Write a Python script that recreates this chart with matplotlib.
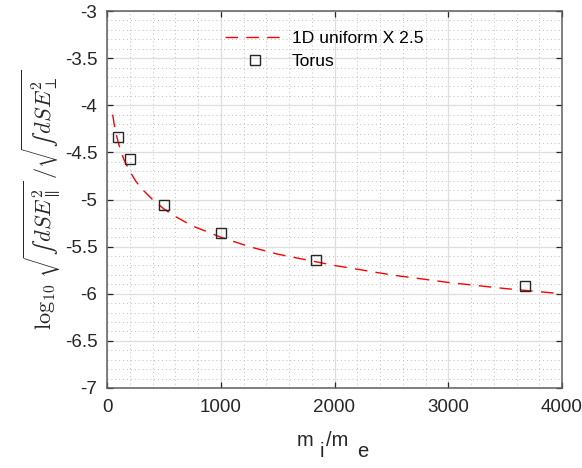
import matplotlib
matplotlib.use("Agg")
import matplotlib.pyplot as plt
from matplotlib.ticker import MultipleLocator, FuncFormatter

plt.rcParams['font.family'] = ['Liberation Sans', 'DejaVu Sans']
plt.rcParams['axes.unicode_minus'] = False

# 1D uniform model (scaled by 2.5)
line_x = [50, 60, 75, 100, 125, 150, 200, 250, 300, 400, 500, 600, 750,
          1000, 1250, 1500, 2000, 2500, 3000, 3500, 4000]
line_y = [-4.10, -4.18, -4.28, -4.40, -4.50, -4.58, -4.70, -4.80, -4.88,
          -5.00, -5.10, -5.18, -5.28, -5.40, -5.50, -5.58, -5.70, -5.80,
          -5.88, -5.945, -6.00]

# Torus data
torus_x = [100, 200, 500, 1000, 1836, 3672]
torus_y = [-4.34, -4.57, -5.055, -5.36, -5.645, -5.92]

line_label = "1D uniform X 2.5"
torus_label = "Torus"

W, H = 582, 468
fig = plt.figure(figsize=(W / 100, H / 100), dpi=100)
ax = fig.add_axes([107 / W, 1 - 388 / H, 455 / W, 377 / H])

ax.plot(line_x, line_y, color='#ff0000', lw=1.0, linestyle=(0, (9, 6)),
        label=line_label, zorder=3)
ax.plot(torus_x, torus_y, linestyle='none', marker='s', markersize=7,
        markerfacecolor='none', markeredgecolor='#262626', markeredgewidth=1.0,
        label=torus_label, zorder=4)

ax.set_xlim(0, 4000)
ax.set_ylim(-7, -3)
ax.xaxis.set_major_locator(MultipleLocator(1000))
ax.xaxis.set_minor_locator(MultipleLocator(200))
ax.yaxis.set_major_locator(MultipleLocator(0.5))
ax.yaxis.set_minor_locator(MultipleLocator(0.1))
ax.yaxis.set_major_formatter(FuncFormatter(lambda v, p: ('%g' % v)))
ax.xaxis.set_major_formatter(FuncFormatter(lambda v, p: ('%g' % v)))

ax.grid(True, which='major', color='#dedede', lw=0.9, linestyle='-', zorder=0)
ax.grid(True, which='minor', color='#bdbdbd', lw=0.7, linestyle=(0, (1, 3)), zorder=0)
ax.set_axisbelow(True)

for s in ax.spines.values():
    s.set_color('#5e5e5e')
    s.set_linewidth(1.1)

ax.tick_params(which='major', direction='in', length=4, width=0.9, color='#262626',
               top=True, right=True, labelsize=13.5, labelcolor='#262626')
ax.tick_params(axis='y', which='major', pad=7)
ax.tick_params(axis='x', which='major', pad=8)
ax.tick_params(which='minor', length=0, top=True, right=True)

# x label: m_i / m_e (MATLAB-style, subscripts nearly full size)
def px(x, y):
    return x / W, 1 - y / H

xl_kw = dict(fontsize=14.5, color='#262626', va='baseline', ha='left')
fig.text(*px(297, 446), 'm', **xl_kw)
fig.text(*px(320, 457), 'i', **xl_kw)
fig.text(*px(326, 446), '/m', **xl_kw)
fig.text(*px(357, 457), 'e', **xl_kw)

ax.set_ylabel(r'$\log_{10}\,\sqrt{∫\, dSE_{\parallel}^2}\,/\sqrt{∫\, dSE_{\perp}^2}$',
              fontsize=16, color='#262626', math_fontfamily='cm', labelpad=1.5)

leg = ax.legend(loc='upper left', bbox_to_anchor=(0.243, 0.965), frameon=False,
                fontsize=12.6, handlelength=3.5, handletextpad=0.35,
                labelspacing=0.42, borderaxespad=0)
for t in leg.get_texts():
    t.set_color('#000000')

fig.savefig('out.png', dpi=100)
